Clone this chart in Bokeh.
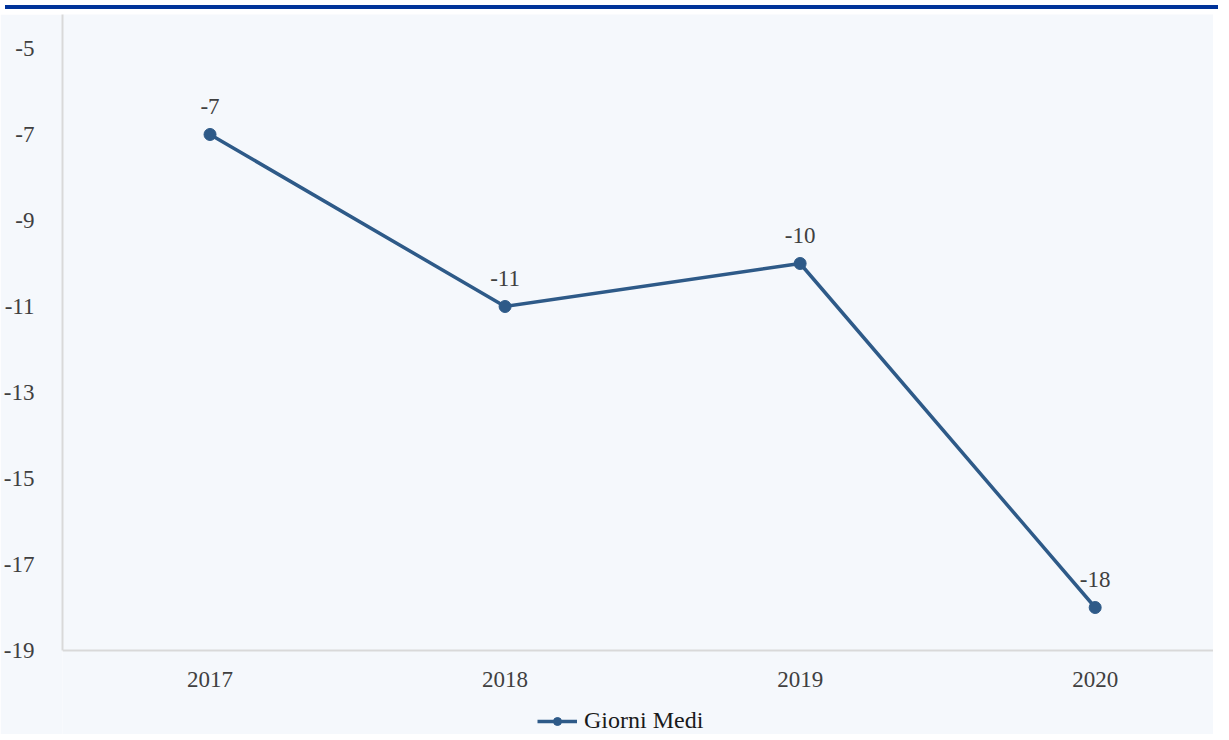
from bokeh.plotting import figure
from bokeh.models import Range1d, FixedTicker, Legend, LegendItem, ColumnDataSource, Div
from bokeh.layouts import column
from bokeh.embed import file_html
from bokeh.resources import INLINE
from bokeh.core.properties import value

years = ["2017", "2018", "2019", "2020"]
giorni_medi = [-7, -11, -10, -18]
y_ticks = [-19, -17, -15, -13, -11, -9, -7, -5]
y_min, y_max = -19, -4.21

FONT = "Liberation Serif"
BG = "#f5f8fc"
LINE = "#2e5a88"
TXT = "#404040"
FS = "23px"

xpos = [i + 0.5 for i in range(len(years))]
src = ColumnDataSource(dict(x=xpos, y=giorni_medi, lbl=[str(v) for v in giorni_medi]))

# frame extends below the x axis so the legend can sit inside it
p = figure(width=1213, height=720, x_range=Range1d(0, 3.901), y_range=Range1d(y_min - 1.953, y_max),
           output_backend="svg", toolbar_location=None,
           min_border_left=61, min_border_right=0, min_border_top=0, min_border_bottom=0)
p.background_fill_color = BG
p.border_fill_color = BG
p.outline_line_color = None
p.grid.visible = False

r_line = p.line("x", "y", source=src, line_color=LINE, line_width=3.5)
r_pt = p.scatter("x", "y", source=src, size=12, fill_color=LINE, line_color=LINE)
p.text("x", "y", text="lbl", source=src, y_offset=-28, text_align="center", text_baseline="middle",
       text_font=value(FONT), text_font_size=FS, text_color=TXT)

p.xaxis.ticker = FixedTicker(ticks=xpos)
p.xaxis.major_label_overrides = {x: y for x, y in zip(xpos, years)}
p.xaxis.fixed_location = y_min
p.yaxis.ticker = FixedTicker(ticks=y_ticks)
p.yaxis.major_label_overrides = {t: str(t) for t in y_ticks}
p.yaxis.bounds = (y_min, y_max)
for ax in (p.xaxis, p.yaxis):
    ax.axis_line_color = "#d9d9d9"
    ax.axis_line_width = 2
    ax.major_tick_line_color = None
    ax.minor_tick_line_color = None
    ax.major_label_text_font = FONT
    ax.major_label_text_font_size = FS
    ax.major_label_text_color = TXT
p.xaxis.major_label_standoff = 15
p.yaxis.major_label_standoff = 22

legend = Legend(items=[LegendItem(label="Giorni Medi", renderers=[r_line, r_pt])],
                location=(475, 0), orientation="horizontal", padding=0, margin=0,
                glyph_width=40, glyph_height=20, label_standoff=7,
                background_fill_alpha=0, border_line_color=None,
                label_text_font=FONT, label_text_font_size="24px", label_text_color="#1a1a1a")
p.add_layout(legend)

band = Div(width=1213, height=4, styles={"background-color": "#003399"})
layout = column(band, p, spacing=0)

open("out.html", "w").write(file_html(layout, INLINE))
